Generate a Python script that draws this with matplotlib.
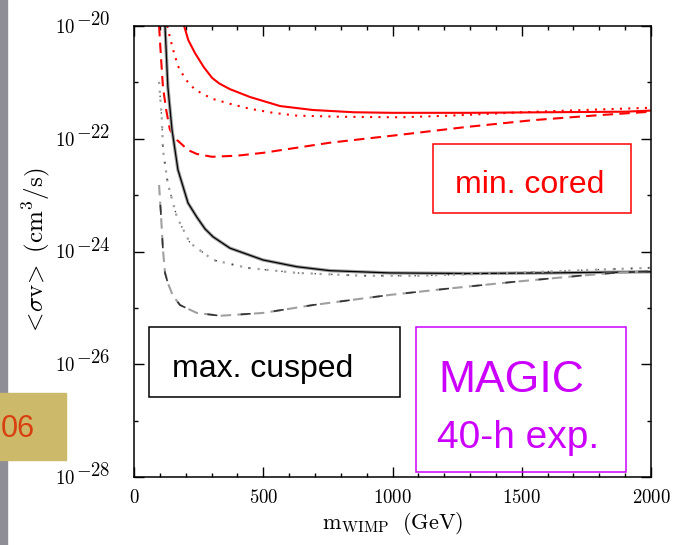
import numpy as np
import matplotlib
matplotlib.use("Agg")
import matplotlib.pyplot as plt
from matplotlib import font_manager
from matplotlib.patches import Rectangle
from matplotlib.ticker import FixedLocator, NullFormatter

plt.rcParams['mathtext.fontset'] = 'cm'

# --- curve data: WIMP mass (GeV) vs log10 <sigma v> (cm^3/s) ---
# min. cored (red)
cored_solid_m = [194, 210, 236, 270, 302, 330, 371, 449, 565, 692, 850, 1000, 1300, 1600, 1900, 2000]
cored_solid_log = [-20.0, -20.25, -20.48, -20.73, -20.92, -21.02, -21.12, -21.26, -21.42, -21.49,
                   -21.53, -21.54, -21.54, -21.53, -21.52, -21.50]
cored_dot_m = [128, 150, 170, 200, 236, 302, 371, 450, 538, 630, 800, 1030, 1225, 1500, 1800, 2000]
cored_dot_log = [-20.0, -20.4, -20.71, -20.95, -21.13, -21.29, -21.38, -21.47, -21.54, -21.59,
                 -21.61, -21.62, -21.59, -21.53, -21.48, -21.45]
cored_dash_m = [97, 105, 112, 125, 139, 166, 209, 243, 302, 400, 499, 758, 1029, 1288, 1544, 1803, 2000]
cored_dash_log = [-20.0, -20.6, -21.08, -21.5, -21.84, -22.02, -22.2, -22.27, -22.32, -22.3,
                  -22.25, -22.07, -21.93, -21.79, -21.67, -21.58, -21.52]

# max. cusped (black / grey)
cusp_solid_m = [120, 131, 147, 170, 209, 243, 275, 306, 371, 499, 630, 758, 990, 1300, 1600, 2000]
cusp_solid_log = [-20.0, -21.08, -21.84, -22.55, -23.14, -23.39, -23.6, -23.74, -23.94, -24.15,
                  -24.27, -24.34, -24.38, -24.39, -24.38, -24.36]
cusp_dot_m = [97, 108, 112, 131, 166, 217, 306, 437, 630, 886, 1100, 1466, 1800, 2000]
cusp_dot_log = [-20.99, -21.67, -22.2, -22.8, -23.39, -23.85, -24.15, -24.29, -24.38, -24.43,
                -24.43, -24.38, -24.32, -24.29]
cusp_dash_m = [97, 105, 112, 120, 131, 150, 178, 243, 333, 499, 692, 990, 1211, 1466, 1725, 1853, 2000]
cusp_dash_log = [-22.82, -23.4, -23.97, -24.38, -24.56, -24.78, -24.95, -25.09, -25.14, -25.09,
                 -24.95, -24.77, -24.66, -24.54, -24.43, -24.38, -24.35]

x_major = [0, 500, 1000, 1500, 2000]
y_exp = [-28, -26, -24, -22, -20]
y_minor_exp = [-27, -25, -23, -21]

# narrow sans for the annotation boxes if present
names = {f.name for f in font_manager.fontManager.ttflist}
box_font = 'Liberation Sans Narrow' if 'Liberation Sans Narrow' in names else 'Liberation Sans'

RED = '#ff0000'
MAGENTA = '#cc00ff'
GREY = '#a0a0a0'

fig = plt.figure(figsize=(6.74, 5.45), dpi=100)
W, H = 674, 545

# slide decorations: grey strip at left edge and the khaki page tag
fig.patches.append(Rectangle((0, 0), 7 / W, 1, transform=fig.transFigure,
                             color='#8f8e96', zorder=0))
fig.patches.append(Rectangle((0, 1 - 460 / H), 66 / W, 67 / H, transform=fig.transFigure,
                             color='#cdb96a', zorder=1))
fig.text(1 / W, 1 - 437 / H, '06', color='#d84010', fontsize=22, family=box_font,
         ha='left', va='baseline')

ax = fig.add_axes([134 / W, 1 - 477 / H, 517 / W, 451 / H])

def p(logs):
    return 10.0 ** np.asarray(logs)

# red curves
ax.plot(cored_solid_m, p(cored_solid_log), color=RED, lw=1.5)
ax.plot(cored_dot_m, p(cored_dot_log), color=RED, lw=1.5, ls=(0, (1, 3)))
ax.plot(cored_dash_m, p(cored_dash_log), color=RED, lw=1.5, ls=(0, (5, 3)))

# black/grey curves (two overlapping sets)
ax.plot(cusp_solid_m, p(cusp_solid_log), color=GREY, lw=2.4)
ax.plot(cusp_solid_m, p(cusp_solid_log), color='black', lw=0.9)
ax.plot(cusp_dot_m, p(cusp_dot_log), color=GREY, lw=1.6, ls=(0, (1, 3)))
ax.plot(cusp_dot_m, p(cusp_dot_log), color='#444444', lw=1.0, ls=(2, (1, 11)))
ax.plot(cusp_dash_m, p(cusp_dash_log), color=GREY, lw=1.5, ls=(0, (5, 3)))
ax.plot(cusp_dash_m, p(cusp_dash_log), color='#333333', lw=1.2, ls=(8, (6, 14)))

ax.set_xlim(0, 2000)
ax.set_yscale('log')
ax.set_ylim(1e-28, 1e-20)

ax.xaxis.set_major_locator(FixedLocator(x_major))
ax.xaxis.set_minor_locator(FixedLocator(np.arange(0, 2001, 100)))
ax.yaxis.set_major_locator(FixedLocator([10.0 ** e for e in y_exp]))
ax.yaxis.set_minor_locator(FixedLocator([10.0 ** e for e in y_minor_exp]))
ax.yaxis.set_major_formatter(NullFormatter())
ax.yaxis.set_minor_formatter(NullFormatter())
ax.set_xticklabels([f'${v}$' for v in x_major])

ax.tick_params(which='both', direction='in', top=True, right=True, width=1.0,
               colors='black', labelsize=13.5)
ax.tick_params(which='major', length=7)
ax.tick_params(which='minor', length=3)
ax.tick_params(axis='x', pad=8)
for s in ax.spines.values():
    s.set_linewidth(1.1)

# y tick labels: "10" with a raised, nearly full-size exponent
for e in y_exp:
    ax.annotate(r'$10$', xy=(0, 10.0 ** e), xycoords=('axes fraction', 'data'),
                xytext=(-42.5, -5), textcoords='offset points',
                ha='right', va='baseline', fontsize=13.5)
    ax.annotate(rf'${e}$', xy=(0, 10.0 ** e), xycoords=('axes fraction', 'data'),
                xytext=(-42.0, 0.7), textcoords='offset points',
                ha='left', va='baseline', fontsize=13.5)

ax.set_xlabel(r'$\mathrm{m}_{\mathrm{WIMP}}\ \ (\mathrm{GeV})$', fontsize=16, labelpad=2)
ax.set_ylabel(r'$<\!\sigma\mathrm{v}\!>\ (\mathrm{cm}^3/\mathrm{s})$', fontsize=18)
ax.yaxis.set_label_coords(-0.158, 0.5)

# labelled boxes
def box(x0, y0, x1, y1, color, lw=1.1):
    ax.add_patch(Rectangle((x0, y0), x1 - x0, y1 - y0, transform=ax.transAxes,
                           fill=False, edgecolor=color, lw=lw, zorder=5))

box(0.578, 0.585, 0.961, 0.738, RED)
ax.text(0.621, 0.630, 'min. cored', transform=ax.transAxes, color=RED,
        fontsize=23, family=box_font, ha='left', va='baseline')

box(0.029, 0.177, 0.515, 0.333, 'black')
ax.text(0.0735, 0.222, 'max. cusped', transform=ax.transAxes, color='black',
        fontsize=23, family=box_font, ha='left', va='baseline')

box(0.545, 0.011, 0.952, 0.333, MAGENTA)
ax.text(0.588, 0.188, 'MAGIC', transform=ax.transAxes, color=MAGENTA,
        fontsize=32, family=box_font, ha='left', va='baseline')
ax.text(0.586, 0.064, '40-h exp.', transform=ax.transAxes, color=MAGENTA,
        fontsize=28, family=box_font, ha='left', va='baseline')

fig.savefig('out.png', dpi=100)
